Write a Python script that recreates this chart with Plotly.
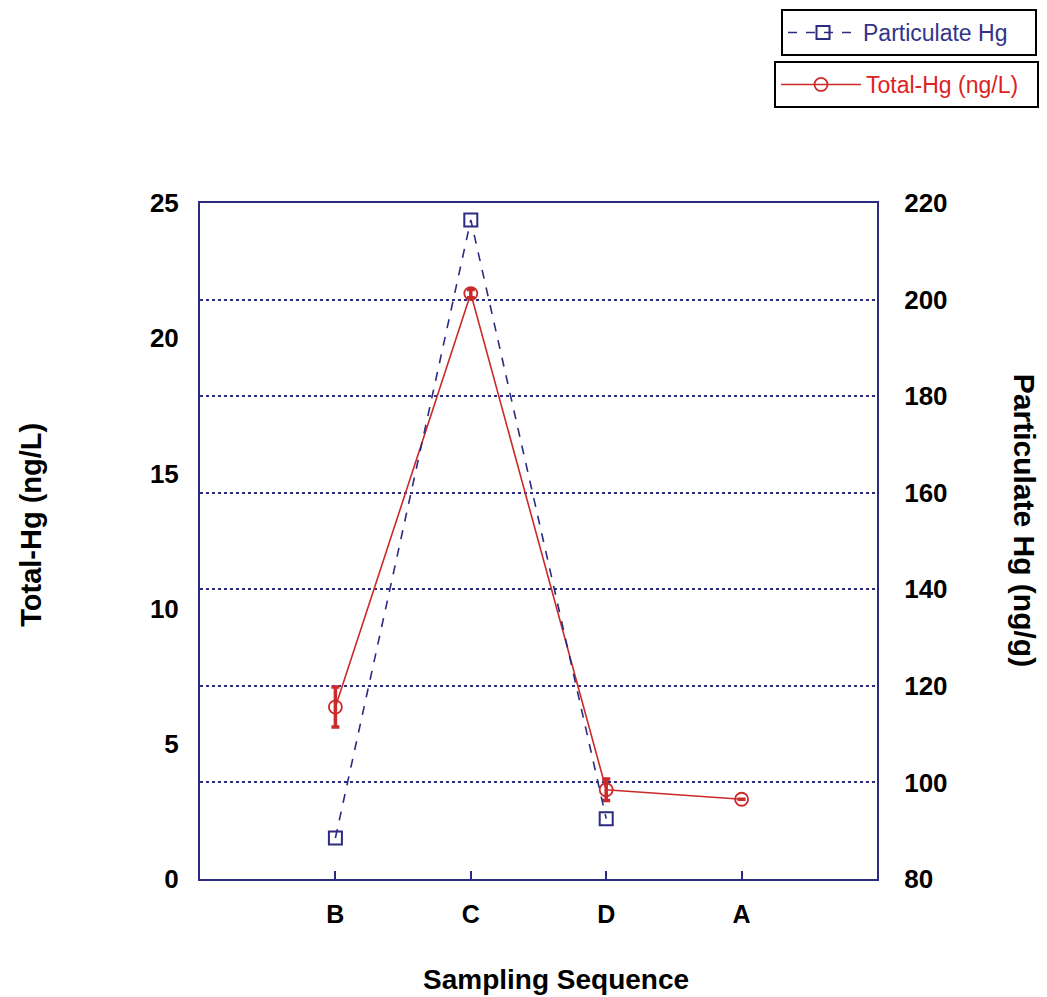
import plotly.graph_objects as go

categories = ["B", "C", "D", "A"]
particulate_hg = [88.5, 216.5, 92.5]          # ng/g, right axis (B, C, D)
particulate_cats = ["B", "C", "D"]
total_hg = [6.36, 21.65, 3.3, 2.95]           # ng/L, left axis
total_hg_err = [0.74, 0.15, 0.4, 0.0]

NAVY = "#2b2b80"
RED = "#cc2a2a"
FONT = "Arial, Liberation Sans, sans-serif"

fig = go.Figure()

fig.add_trace(go.Scatter(
    x=categories, y=total_hg, name="Total-Hg (ng/L)",
    mode="lines+markers",
    line=dict(color=RED, width=1.6),
    marker=dict(symbol="circle-open", size=13, color=RED, line=dict(width=1.8, color=RED)),
    error_y=dict(type="data", array=total_hg_err, color=RED, thickness=3.5, width=4),
    legend="legend2",
))

fig.add_trace(go.Scatter(
    x=particulate_cats, y=particulate_hg, name="Particulate Hg",
    mode="lines+markers", yaxis="y2",
    line=dict(color=NAVY, width=1.6, dash="dash"),
    marker=dict(symbol="square-open", size=13, color=NAVY, line=dict(width=2, color=NAVY)),
    legend="legend",
))

# page body has an ~8px margin; compensate so the plot area sits at 200..877 x 203..879
OFF = 8
W, H = 1047 - OFF, 997 - OFF
fig.update_layout(
    width=W, height=H,
    margin=dict(l=200 - OFF, r=170, t=203 - OFF, b=118),
    paper_bgcolor="white", plot_bgcolor="white",
    font=dict(family=FONT, color="black"),
    showlegend=True,
    xaxis=dict(
        type="category", categoryorder="array", categoryarray=categories,
        range=[-1, 4],
        showline=True, linecolor=NAVY, linewidth=2, mirror=True,
        ticks="inside", ticklen=8, tickcolor=NAVY, tickwidth=1.5,
        showgrid=False, zeroline=False,
        tickfont=dict(family=FONT, size=25, color="black", weight="bold"),
        ticklabelstandoff=12,
    ),
    yaxis=dict(
        range=[0, 25], dtick=5,
        showline=True, linecolor=NAVY, linewidth=2,
        showgrid=False, zeroline=False, ticks="",
        tickfont=dict(family=FONT, size=26, color="black", weight="bold"),
        ticklabelstandoff=14,
    ),
    yaxis2=dict(
        overlaying="y", side="right",
        range=[80, 220], dtick=20,
        showline=True, linecolor=NAVY, linewidth=2,
        showgrid=True, gridcolor=NAVY, gridwidth=1.5, griddash="dot",
        zeroline=False, ticks="",
        tickfont=dict(family=FONT, size=26, color="black", weight="bold"),
        ticklabelstandoff=20,
    ),
    legend=dict(
        xref="container", yref="container",
        x=1029 / W, y=1 - 1 / H, xanchor="right", yanchor="top",
        orientation="h", itemwidth=70,
        bgcolor="white", bordercolor="black", borderwidth=2,
        font=dict(family=FONT, size=23, color="#33338a"),
        entrywidth=167, entrywidthmode="pixels",
    ),
    legend2=dict(
        xref="container", yref="container",
        x=1031 / W, y=1 - 53 / H, xanchor="right", yanchor="top",
        orientation="h", itemwidth=80,
        bgcolor="white", bordercolor="black", borderwidth=2,
        font=dict(family=FONT, size=23, color="#dd2222"),
        entrywidth=166, entrywidthmode="pixels",
    ),
    annotations=[
        dict(text="<b>Sampling Sequence</b>", x=0.526, y=-0.149, xref="paper", yref="paper",
             xanchor="center", yanchor="middle", showarrow=False,
             font=dict(family=FONT, size=28, color="black")),
        dict(text="<b>Total-Hg (ng/L)</b>", x=-0.2496, y=0.524, xref="paper", yref="paper",
             xanchor="center", yanchor="middle", showarrow=False, textangle=-90,
             font=dict(family=FONT, size=29, color="black")),
        dict(text="<b>Particulate Hg (ng/g)</b>", x=1.217, y=0.53, xref="paper", yref="paper",
             xanchor="center", yanchor="middle", showarrow=False, textangle=90,
             font=dict(family=FONT, size=30, color="black")),
    ],
)

fig.write_html("out.html")
